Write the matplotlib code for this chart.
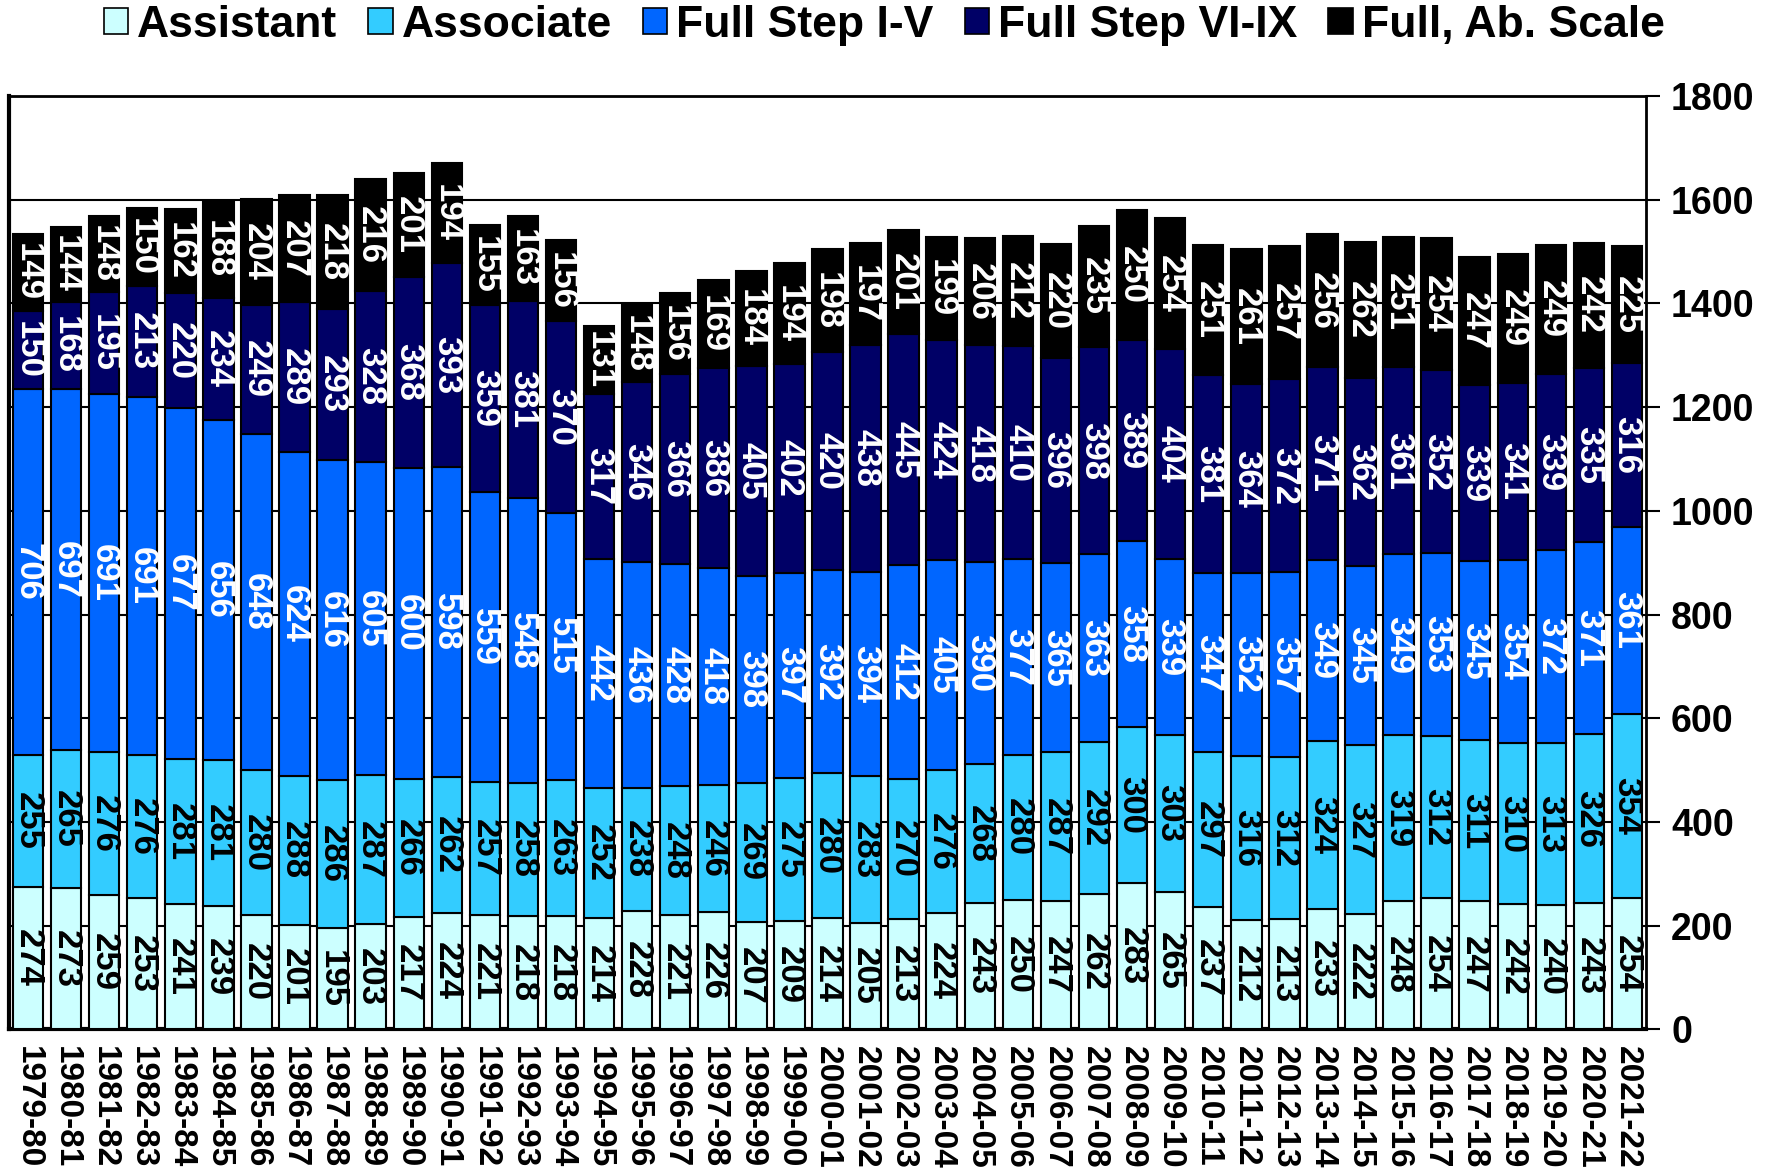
import numpy as np
import matplotlib
matplotlib.use("Agg")
import matplotlib.pyplot as plt
from matplotlib.patches import Patch

plt.rcParams['font.family'] = ['Liberation Sans', 'DejaVu Sans']
plt.rcParams['font.weight'] = 'bold'

# --- data ---
years = ["1979-80", "1980-81", "1981-82", "1982-83", "1983-84", "1984-85", "1985-86",
         "1986-87", "1987-88", "1988-89", "1989-90", "1990-91", "1991-92", "1992-93",
         "1993-94", "1994-95", "1995-96", "1996-97", "1997-98", "1998-99", "1999-00",
         "2000-01", "2001-02", "2002-03", "2003-04", "2004-05", "2005-06", "2006-07",
         "2007-08", "2008-09", "2009-10", "2010-11", "2011-12", "2012-13", "2013-14",
         "2014-15", "2015-16", "2016-17", "2017-18", "2018-19", "2019-20", "2020-21",
         "2021-22"]

assistant = [274, 273, 259, 253, 241, 239, 220, 201, 195, 203, 217, 224, 221, 218, 218,
             214, 228, 221, 226, 207, 209, 214, 205, 213, 224, 243, 250, 247, 262, 283,
             265, 237, 212, 213, 233, 222, 248, 254, 247, 242, 240, 243, 254]
associate = [255, 265, 276, 276, 281, 281, 280, 288, 286, 287, 266, 262, 257, 258, 263,
             252, 238, 248, 246, 269, 275, 280, 283, 270, 276, 268, 280, 287, 292, 300,
             303, 297, 316, 312, 324, 327, 319, 312, 311, 310, 313, 326, 354]
full_1_5 = [706, 697, 691, 691, 677, 656, 648, 624, 616, 605, 600, 598, 559, 548, 515,
            442, 436, 428, 418, 398, 397, 392, 394, 412, 405, 390, 377, 365, 363, 358,
            339, 347, 352, 357, 349, 345, 349, 353, 345, 354, 372, 371, 361]
full_6_9 = [150, 168, 195, 213, 220, 234, 249, 289, 293, 328, 368, 393, 359, 381, 370,
            317, 346, 366, 386, 405, 402, 420, 438, 445, 424, 418, 410, 396, 398, 389,
            404, 381, 364, 372, 371, 362, 361, 352, 339, 341, 339, 335, 316]
full_ab = [149, 144, 148, 150, 162, 188, 204, 207, 218, 216, 201, 194, 155, 163, 156,
           131, 148, 156, 169, 184, 194, 198, 197, 201, 199, 206, 212, 220, 235, 250,
           254, 251, 261, 257, 256, 262, 251, 254, 247, 249, 249, 242, 225]

series = [("Assistant", assistant, "#CCFFFF", "black"),
          ("Associate", associate, "#33CCFF", "black"),
          ("Full Step I-V", full_1_5, "#0066FF", "white"),
          ("Full Step VI-IX", full_6_9, "#000066", "white"),
          ("Full, Ab. Scale", full_ab, "#000000", "white")]

fig = plt.figure(figsize=(17.68, 11.76), dpi=100)
ax = fig.add_axes([0.0051, 0.1246, 0.9259, 0.7939])

x = np.arange(len(years))
bottom = np.zeros(len(years))
handles = []
for name, vals, col, tcol in series:
    vals = np.array(vals, dtype=float)
    bars = ax.bar(x, vals, width=0.8, bottom=bottom, color=col,
                  edgecolor="black", linewidth=1.5, zorder=3)
    ax.bar_label(bars, labels=[str(int(v)) for v in vals], label_type="center",
                 rotation=270, color=tcol, fontsize=25, fontweight="bold", zorder=4)
    bottom += vals
    handles.append(Patch(facecolor=col, edgecolor="black", linewidth=1.2, label=name))

ax.set_xlim(-0.5, len(years) - 0.5)
ax.set_ylim(0, 1800)
ax.set_yticks(np.arange(0, 1801, 200))
ax.yaxis.tick_right()
ax.tick_params(axis="y", direction="out", length=10, width=1.5, labelsize=27, pad=8)
ax.set_xticks(x)
ax.set_xticklabels(years, rotation=270, fontsize=24, fontweight="bold")
ax.tick_params(axis="x", length=0, pad=12)
for lab in ax.get_yticklabels():
    lab.set_fontweight("bold")

ax.grid(axis="y", color="black", linewidth=1.5, zorder=0)
ax.set_axisbelow(True)
ax.spines["left"].set_linewidth(3)
ax.spines["bottom"].set_linewidth(3)
ax.spines["right"].set_linewidth(2)
ax.spines["top"].set_linewidth(2)

fig.legend(handles=handles, loc="upper center", bbox_to_anchor=(0.5, 1.03),
           ncol=5, frameon=False, handlelength=0.55, handleheight=0.55,
           handletextpad=0.2, columnspacing=0.7, prop={"weight": "bold", "size": 32})

fig.savefig("out.png", dpi=100)
